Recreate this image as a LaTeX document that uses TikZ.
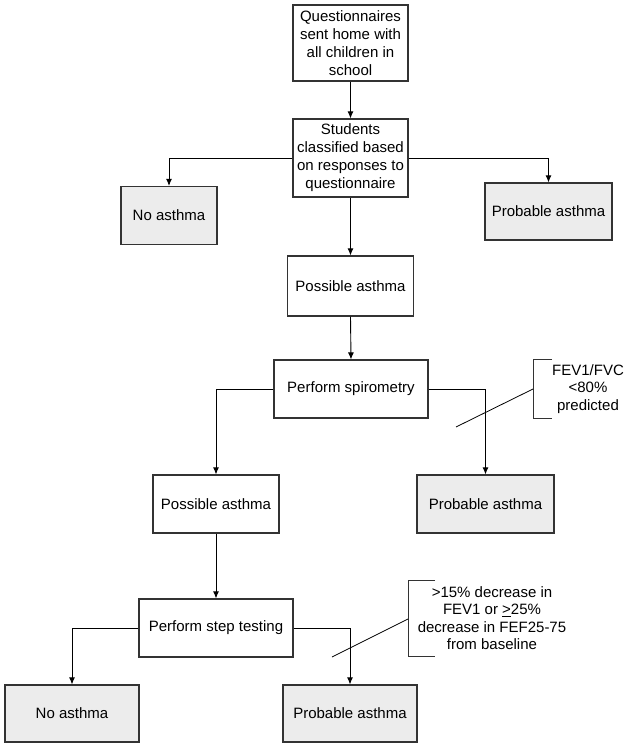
\documentclass[tikz,border=0pt]{standalone}
\usepackage{fontspec}
\setmainfont{Liberation Sans}
\usetikzlibrary{arrows.meta}
\definecolor{shade}{HTML}{ECECEC}
\definecolor{linegray}{HTML}{333333}
\begin{document}
\begin{tikzpicture}[x=1pt,y=-1pt,
  box/.style={draw=linegray,line width=1.2pt,fill=white,inner sep=0pt,align=center,
    font=\fontsize{15}{18}\selectfont},
  grayb/.style={box,fill=shade},
  arr/.style={draw=black,line width=0.9pt,-{Latex[length=7pt,width=6pt]}},
  bracket/.style={draw=linegray,line width=1pt},
  lead/.style={draw=black,line width=0.8pt},
  note/.style={align=center,inner sep=0pt,font=\fontsize{15}{17.5}\selectfont}]
\useasboundingbox (0,0) rectangle (627,747);
\node[box,minimum width=115pt,minimum height=76pt] (q) at (350.5,43) {Questionnaires\\sent home with\\all children in\\school};
\node[box,minimum width=115pt,minimum height=78pt] (s) at (350.5,158) {Students\\classified based\\on responses to\\questionnaire};
\node[grayb,minimum width=96pt,minimum height=58pt] (na1) at (169,215.5) {No asthma};
\node[grayb,minimum width=127pt,minimum height=57pt] (pa1) at (548.5,211.5) {Probable asthma};
\node[box,minimum width=126pt,minimum height=60pt] (pos1) at (350.5,286) {Possible asthma};
\node[box,minimum width=154pt,minimum height=58pt] (spir) at (351,389) {Perform spirometry};
\node[box,minimum width=126pt,minimum height=58pt] (pos2) at (216,504) {Possible asthma};
\node[grayb,minimum width=137pt,minimum height=58pt] (pa2) at (485.5,504) {Probable asthma};
\node[box,minimum width=154pt,minimum height=58pt] (step) at (216,628) {Perform step testing};
\node[grayb,minimum width=134pt,minimum height=57pt] (na2) at (72,713.5) {No asthma};
\node[grayb,minimum width=134pt,minimum height=57pt] (pa3) at (350,713.5) {Probable asthma};

\node[note] (c1) at (588,389) {FEV1/FVC\\<80\%\\predicted};
\node[note] (c2) at (492,618) {>15\% decrease in\\FEV1 or \underline{>}25\%\\decrease in FEF25-75\\from baseline};

\draw[arr] (q.south) -- (s.north);
\draw[arr] (s.west) -| (na1.north);
\draw[arr] (s.east) -| (pa1.north);
\draw[arr] (s.south) -- (pos1.north);
\draw[arr] (pos1.south) -- (spir.north);
\draw[arr] (spir.west) -| (pos2.north);
\draw[arr] (spir.east) -| (pa2.north);
\draw[arr] (pos2.south) -- (step.north);
\draw[arr] (step.west) -| (na2.north);
\draw[arr] (step.east) -| (pa3.north);

\coordinate (b1a) at (552,359);
\coordinate (b1b) at (533,359);
\coordinate (b1c) at (533,418);
\coordinate (b1d) at (552,418);
\coordinate (b1m) at (533,389);
\coordinate (l1) at (456,427);
\draw[bracket] (b1a) -- (b1b) -- (b1c) -- (b1d);
\draw[lead] (l1) -- (b1m);

\coordinate (b2a) at (435,580);
\coordinate (b2b) at (408,580);
\coordinate (b2c) at (408,656);
\coordinate (b2d) at (435,656);
\coordinate (b2m) at (408,619);
\coordinate (l2) at (332,657);
\draw[bracket] (b2a) -- (b2b) -- (b2c) -- (b2d);
\draw[lead] (l2) -- (b2m);
\end{tikzpicture}
\end{document}
